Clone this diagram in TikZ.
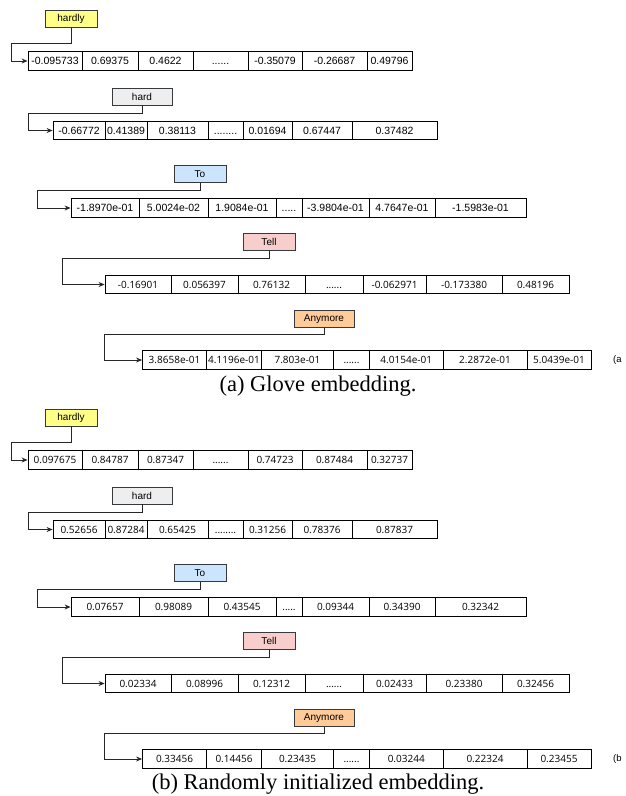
\documentclass[tikz,border=0pt]{standalone}
\usepackage{fontspec}
\setmainfont{Liberation Sans}
\newfontfamily\segoefont{Open Sans}
\newfontfamily\captionserif{Liberation Serif}
\usetikzlibrary{arrows.meta}

\definecolor{lblborder}{HTML}{36393D}
\definecolor{fillyellow}{HTML}{FFFF88}
\definecolor{fillgray}{HTML}{EEEEEE}
\definecolor{fillblue}{HTML}{CCE5FF}
\definecolor{fillpink}{HTML}{F8CECC}
\definecolor{fillorange}{HTML}{FFCC99}

\tikzset{
  cell/.style={draw=black, line width=0.8pt, rectangle, inner sep=0pt,
    minimum height=18.5pt, text height=7.5pt, text depth=0pt,
    font=\fontsize{10.5}{12}\selectfont},
  segcell/.style={cell, text height=7.2pt, font=\segoefont\fontsize{10}{12}\selectfont},
  wordbox/.style={draw=lblborder, line width=0.8pt, rectangle, inner sep=0pt,
    minimum height=17pt, font=\fontsize{10}{12}\selectfont},
  conn/.style={draw=black!85, line width=0.9pt, -{Stealth[length=6pt,width=5pt]}},
  capt/.style={font=\captionserif\fontsize{22.5}{26}\selectfont, inner sep=0pt, anchor=base},
  tag/.style={font=\fontsize{9.5}{10}\selectfont, anchor=west, inner sep=0pt},
}

% elided middle entries (kept in macros so \foreach does not read them as ranges)
\newcommand{\gapfive}{.....}
\newcommand{\gapsix}{......}
\newcommand{\gapeight}{........}

% cell edges of the five vectors (shared by both panels)
\def\edgesA{{28,82,138,193,248,302,367,412}}
\def\edgesB{{53,105,147,208,243,292,352,437}}
\def\edgesC{{71,139,208,276,302,369,435,526}}
\def\edgesD{{105,171,238,305,363,426,502,569}}
\def\edgesE{{142.5,206.5,261.5,333.5,369.5,443,527,591}}

% one embedding vector: #1 name, #2 centre y, #3 cell style, #4 edges, #5 values
\newcommand{\embrow}[5]{%
  \foreach \v [count=\i] in {#5} {
    \pgfmathsetmacro\xa{#4[\i-1]}
    \pgfmathsetmacro\xb{#4[\i]}
    \node[#3, minimum width={(\xb-\xa)*1pt}] (#1-\i) at ({(\xa+\xb)/2}, #2) {\v};
  }%
}

\begin{document}
\begin{tikzpicture}[x=1pt, y=-1pt]
\useasboundingbox (0,0) rectangle (625,796);

% ---------------- (a) GloVe vectors ----------------
\node[wordbox, fill=fillyellow, minimum width=52pt] (a-w1) at (71,18.5) {hardly};
\node[wordbox, fill=fillgray,   minimum width=60pt] (a-w2) at (142,96.5) {hard};
\node[wordbox, fill=fillblue,   minimum width=52pt] (a-w3) at (200,174) {To};
\node[wordbox, fill=fillpink,   minimum width=52pt] (a-w4) at (269,241.5) {Tell};
\node[wordbox, fill=fillorange, minimum width=60pt] (a-w5) at (324,319) {Anymore};

\embrow{a-r1}{61}{cell}{\edgesA}{-0.095733,0.69375,0.4622,\gapsix,-0.35079,-0.26687,0.49796}
\embrow{a-r2}{130.5}{cell}{\edgesB}{-0.66772,0.41389,0.38113,\gapeight,0.01694,0.67447,0.37482}
\embrow{a-r3}{208}{cell}{\edgesC}{-1.8970e-01,5.0024e-02,1.9084e-01,\gapfive,-3.9804e-01,4.7647e-01,-1.5983e-01}
\embrow{a-r4}{284.5}{segcell}{\edgesD}{-0.16901,0.056397,0.76132,\gapsix,-0.062971,-0.173380,0.48196}
\embrow{a-r5}{360}{segcell}{\edgesE}{3.8658e-01,4.1196e-01,7.803e-01,\gapsix,4.0154e-01,2.2872e-01,5.0439e-01}

\coordinate (a-k1) at (11,43);
\coordinate (a-k2) at (28,113);
\coordinate (a-k3) at (37,190);
\coordinate (a-k4) at (62.5,258);
\coordinate (a-k5) at (104.5,334);
\foreach \n in {1,...,5}
  \draw[conn] (a-w\n.south) |- (a-k\n) |- (a-r\n-1.west);

\node[tag] (a-tag) at (613,360) {(a};
\node[capt] (a-cap) at (318,391) {(a) Glove embedding.};

% ---------------- (b) random vectors ----------------
\begin{scope}[shift={(0,399)}]
\node[wordbox, fill=fillyellow, minimum width=52pt] (b-w1) at (71,18.5) {hardly};
\node[wordbox, fill=fillgray,   minimum width=60pt] (b-w2) at (142,96.5) {hard};
\node[wordbox, fill=fillblue,   minimum width=52pt] (b-w3) at (200,174) {To};
\node[wordbox, fill=fillpink,   minimum width=52pt] (b-w4) at (269,241.5) {Tell};
\node[wordbox, fill=fillorange, minimum width=60pt] (b-w5) at (324,319) {Anymore};

\embrow{b-r1}{61}{segcell}{\edgesA}{0.097675,0.84787,0.87347,\gapsix,0.74723,0.87484,0.32737}
\embrow{b-r2}{130.5}{segcell}{\edgesB}{0.52656,0.87284,0.65425,\gapeight,0.31256,0.78376,0.87837}
\embrow{b-r3}{208}{segcell}{\edgesC}{0.07657,0.98089,0.43545,\gapfive,0.09344,0.34390,0.32342}
\embrow{b-r4}{284.5}{segcell}{\edgesD}{0.02334,0.08996,0.12312,\gapsix,0.02433,0.23380,0.32456}
\embrow{b-r5}{360}{segcell}{\edgesE}{0.33456,0.14456,0.23435,\gapsix,0.03244,0.22324,0.23455}

\coordinate (b-k1) at (11,43);
\coordinate (b-k2) at (28,113);
\coordinate (b-k3) at (37,190);
\coordinate (b-k4) at (62.5,258);
\coordinate (b-k5) at (104.5,334);
\foreach \n in {1,...,5}
  \draw[conn] (b-w\n.south) |- (b-k\n) |- (b-r\n-1.west);

\node[tag] (b-tag) at (613,360) {(b};
\end{scope}
\node[capt] (b-cap) at (318,789) {(b) Randomly initialized embedding.};
\end{tikzpicture}
\end{document}
